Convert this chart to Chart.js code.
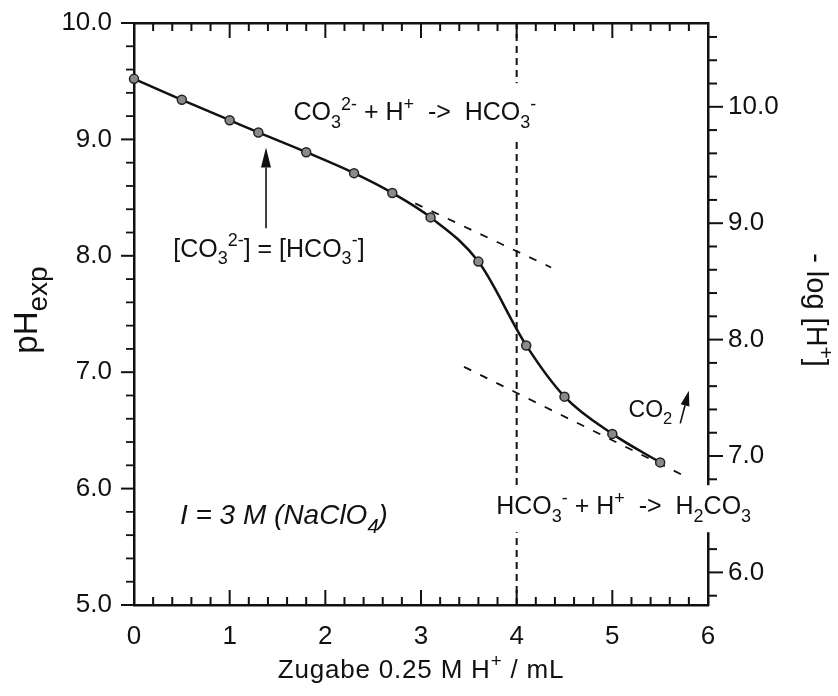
<!DOCTYPE html>
<html><head><meta charset="utf-8">
<script src="https://cdn.jsdelivr.net/npm/chart.js@4/dist/chart.umd.min.js"></script>
<style>html,body{margin:0;padding:0;background:#fff}#wrap{width:838px;height:696px;position:relative}</style>
</head><body><div id="wrap"><canvas id="c" width="838" height="696"></canvas></div>
<script>
// ---- data ----
const volume = [0, 0.5, 1.0, 1.3, 1.8, 2.3, 2.7, 3.1, 3.6, 4.1, 4.5, 5.0, 5.5];
const phExp  = [9.52, 9.34, 9.165, 9.06, 8.89, 8.71, 8.54, 8.33, 7.95, 7.23, 6.79, 6.47, 6.225];
const tangentUpperX = [2.94, 4.36];
const tangentUpperY = [8.45, 7.90];
const tangentLowerX = [3.45, 5.75];
const tangentLowerY = [7.046, 6.11];
const equivalenceX = [4, 4];
const equivalenceY = [5, 10];
const xTicks = [0, 1, 2, 3, 4, 5, 6];
const phTicks = [5, 6, 7, 8, 9, 10];
const logHTicks = [6, 7, 8, 9, 10];
const logHOffset = 0.72;   // -log[H+] = pH_exp + offset

const FONT = "'Liberation Sans', Arial, Helvetica, sans-serif";
const INK = '#111';
const pts = (xs, ys) => xs.map((x, i) => ({x, y: ys[i]}));

// annotations (data coordinates)
const texts = [
  {x: 1.667, y: 9.165, size: 25, box: [37, 17], segs: [['CO'], ['3','sub'], ['2-','sup'], [' + H'], ['+','sup'], ['  ->  HCO'], ['3','sub'], ['-','sup']]},
  {x: 0.41, y: 7.99, size: 25, segs: [['[CO'], ['3','sub'], ['2-','sup'], ['] = [HCO'], ['3','sub'], ['-','sup'], [']']]},
  {x: 0.48, y: 5.695, size: 28, italic: true, segs: [['I = 3 M (NaClO'], ['4','sub'], [')']]},
  {x: 5.17, y: 6.617, size: 23, segs: [['CO'], ['2','sub']]},
  {x: 3.786, y: 5.78, size: 25, box: [29, 18], segs: [['HCO'], ['3','sub'], ['-','sup'], [' + H'], ['+','sup'], ['  ->  H'], ['2','sub'], ['CO'], ['3','sub']]}
];
const arrows = [
  {x0: 1.38, y0: 8.236, x1: 1.38, y1: 8.93, head: 20, half: 5},
  {x0: 5.71, y0: 6.56, x1: 5.80, y1: 6.84, head: 15, half: 4.5}
];

function richWidth(ctx, segs, size, italic, subScale) {
  let w = 0;
  for (const [t, m] of segs) {
    const fs = m ? size * (subScale || 0.72) : size;
    ctx.font = `${italic ? 'italic ' : ''}${fs}px ${FONT}`;
    w += ctx.measureText(t).width;
  }
  return w;
}
function drawRich(ctx, segs, x, y, size, italic, subScale) {
  let cx = x;
  for (const [t, m] of segs) {
    const fs = m ? size * (subScale || 0.72) : size;
    ctx.font = `${italic ? 'italic ' : ''}${fs}px ${FONT}`;
    const dy = m === 'sub' ? size * 0.3 : m === 'sup' ? -size * 0.42 : 0;
    ctx.fillText(t, cx, y + dy);
    cx += ctx.measureText(t).width;
  }
  return cx - x;
}

const decor = {
  id: 'decor',
  afterDatasetsDraw(chart) {
    const ctx = chart.ctx;
    const {x, y, y2} = chart.scales;
    const a = chart.chartArea;
    ctx.save();
    ctx.strokeStyle = INK;
    ctx.lineCap = 'butt';
    const line = (x0, y0, x1, y1, w) => { ctx.lineWidth = w; ctx.beginPath(); ctx.moveTo(x0, y0); ctx.lineTo(x1, y1); ctx.stroke(); };
    // x ticks (inward, bottom and top)
    for (let i = 0; i <= 30; i++) {
      const v = i / 5;
      const px = x.getPixelForValue(v);
      const major = xTicks.includes(v);
      const L = major ? 15 : 8;
      line(px, a.bottom, px, a.bottom - L, 2);
      line(px, a.top, px, a.top + L, 2);
    }
    // left y ticks (outward)
    for (let i = 0; i <= 25; i++) {
      const v = 5 + i / 5;
      const py = y.getPixelForValue(v);
      const major = phTicks.some(t => Math.abs(t - v) < 1e-6);
      if (major) line(a.left - 13, py, a.left, py, 2);
      else line(a.left - 8, py, a.left + 1, py, 1.8);
    }
    // right y ticks (outward)
    for (let i = 0; i <= 30; i++) {
      const v = 5.6 + i / 5;
      if (v < y2.min - 1e-6 || v > y2.max + 1e-6) continue;
      const py = y2.getPixelForValue(v);
      const major = logHTicks.some(t => Math.abs(t - v) < 1e-6);
      line(a.right, py, a.right + (major ? 15 : 9), py, 2);
    }
    // annotation texts with white boxes
    ctx.fillStyle = INK;
    ctx.textBaseline = 'alphabetic';
    ctx.textAlign = 'left';
    for (const t of texts) {
      const px = x.getPixelForValue(t.x), py = y.getPixelForValue(t.y);
      if (t.box) {
        const w = richWidth(ctx, t.segs, t.size, t.italic);
        ctx.fillStyle = '#fff';
        ctx.fillRect(px - 6, py - t.box[0], w + 12, t.box[0] + t.box[1]);
        ctx.fillStyle = INK;
      }
      drawRich(ctx, t.segs, px, py, t.size, t.italic);
    }
    // arrows
    for (const ar of arrows) {
      const x0 = x.getPixelForValue(ar.x0), y0 = y.getPixelForValue(ar.y0);
      const x1 = x.getPixelForValue(ar.x1), y1 = y.getPixelForValue(ar.y1);
      const ang = Math.atan2(y1 - y0, x1 - x0);
      const bx = x1 - ar.head * Math.cos(ang), by = y1 - ar.head * Math.sin(ang);
      line(x0, y0, bx, by, 1.6);
      ctx.beginPath();
      ctx.moveTo(x1, y1);
      ctx.lineTo(bx + ar.half * Math.sin(ang), by - ar.half * Math.cos(ang));
      ctx.lineTo(bx - ar.half * Math.sin(ang), by + ar.half * Math.cos(ang));
      ctx.closePath();
      ctx.fill();
    }
    // axis titles
    ctx.save();
    const lsegs = [['pH'], ['exp', 'sub']];
    const lw = richWidth(ctx, lsegs, 33, false, 0.85);
    ctx.translate(37, 310);
    ctx.rotate(-Math.PI / 2);
    drawRich(ctx, lsegs, -lw / 2, 0, 33, false, 0.85);
    ctx.restore();
    ctx.save();
    const rsegs = [['- log [H'], ['+', 'sup'], [']']];
    const rw = richWidth(ctx, rsegs, 29, false);
    ctx.translate(807, 310);
    ctx.rotate(Math.PI / 2);
    drawRich(ctx, rsegs, -rw / 2, 0, 29, false);
    ctx.restore();
    ctx.save();
    try { ctx.letterSpacing = '0.8px'; } catch (e) {}
    const bsegs = [['Zugabe 0.25 M H'], ['+', 'sup'], [' / mL']];
    const bw = richWidth(ctx, bsegs, 26, false);
    drawRich(ctx, bsegs, 421 - bw / 2, 678, 26, false);
    ctx.restore();
    ctx.restore();
  }
};

const noPadV = s => { s.paddingTop = 0; s.paddingBottom = 0; };
const tickFont = {family: FONT, size: 26};
new Chart(document.getElementById('c'), {
  type: 'scatter',
  data: {datasets: [
    {data: pts(volume, phExp), showLine: true, borderColor: INK, borderWidth: 2.5, cubicInterpolationMode: 'monotone',
     pointRadius: 4.5, pointBackgroundColor: '#8a8a8a', pointBorderColor: '#222', pointBorderWidth: 1.5, clip: false},
    {data: pts(tangentUpperX, tangentUpperY), showLine: true, borderColor: INK, borderWidth: 1.8, borderDash: [8, 10], pointRadius: 0},
    {data: pts(tangentLowerX, tangentLowerY), showLine: true, borderColor: INK, borderWidth: 1.8, borderDash: [8, 10], pointRadius: 0},
    {data: pts(equivalenceX, equivalenceY), showLine: true, borderColor: INK, borderWidth: 2, borderDash: [7, 5], pointRadius: 0}
  ]},
  options: {
    responsive: false, animation: false, devicePixelRatio: 1,
    layout: {padding: {top: 23, left: 0, right: 0, bottom: 0}},
    plugins: {legend: {display: false}, tooltip: {enabled: false}},
    scales: {
      x: {type: 'linear', position: 'bottom', min: 0, max: 6,
          afterBuildTicks: s => { s.ticks = xTicks.map(v => ({value: v})); },
          afterFit: s => { s.height = 91; s.paddingLeft = 0; s.paddingRight = 0; },
          ticks: {font: tickFont, color: INK, padding: 16, maxRotation: 0, callback: v => String(v)},
          grid: {display: false, drawTicks: false}, border: {display: true, width: 2.5, color: INK}},
      xTop: {type: 'linear', axis: 'x', position: 'top', min: 0, max: 6,
          afterFit: s => { s.height = 0; s.paddingLeft = 0; s.paddingRight = 0; },
          ticks: {display: false}, grid: {display: false, drawTicks: false}, border: {display: true, width: 2.5, color: INK}},
      y: {type: 'linear', position: 'left', min: 5, max: 10,
          afterBuildTicks: s => { s.ticks = phTicks.map(v => ({value: v})); },
          afterFit: s => { s.width = 134; noPadV(s); },
          ticks: {font: tickFont, color: INK, padding: 22, callback: v => v.toFixed(1)},
          grid: {display: false, drawTicks: false}, border: {display: true, width: 2.5, color: INK}},
      y2: {type: 'linear', axis: 'y', position: 'right', min: 5 + logHOffset, max: 10 + logHOffset,
          afterBuildTicks: s => { s.ticks = logHTicks.map(v => ({value: v})); },
          afterFit: s => { s.width = 130; noPadV(s); },
          ticks: {font: tickFont, color: INK, padding: 20, callback: v => v.toFixed(1)},
          grid: {display: false, drawTicks: false}, border: {display: true, width: 2.5, color: INK}}
    }
  },
  plugins: [decor]
});
</script></body></html>
